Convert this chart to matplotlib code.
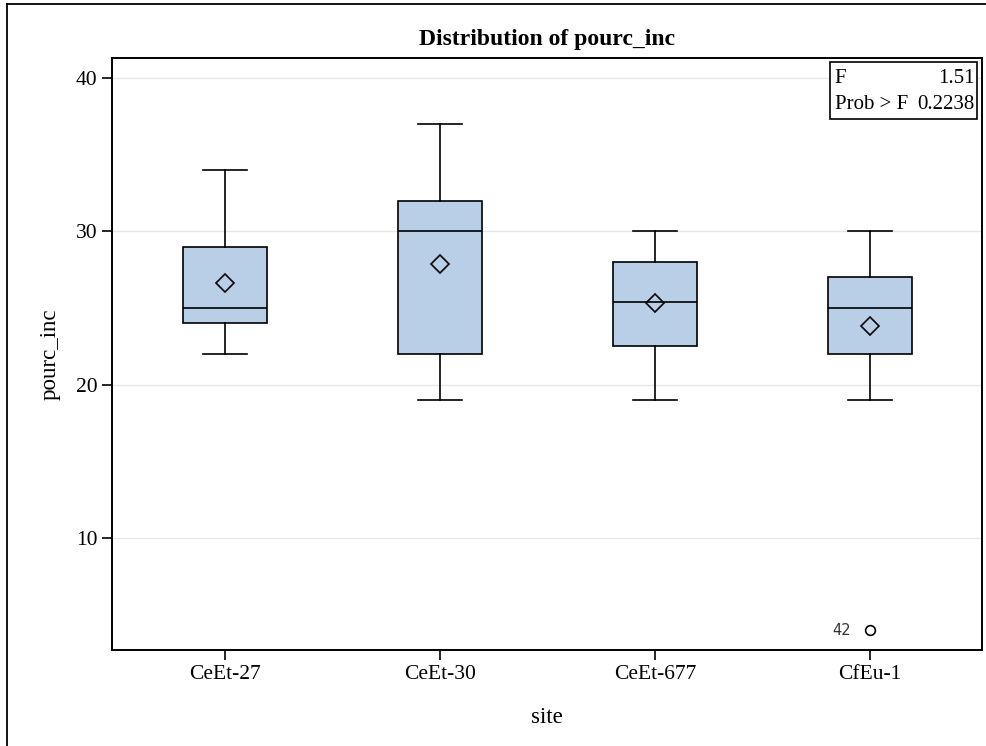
import matplotlib.pyplot as plt
from matplotlib.patches import Rectangle
from matplotlib.lines import Line2D

plt.rcParams['font.family'] = ['Liberation Serif', 'DejaVu Serif']

# Box statistics
sites = ['CeEt-27', 'CeEt-30', 'CeEt-677', 'CfEu-1']
whislo = [22, 19, 19, 19]
q1 = [24, 22, 22.5, 22]
med = [25, 30, 25.4, 25]
q3 = [29, 32, 28, 27]
whishi = [34, 37, 30, 30]
means = [26.6, 27.85, 25.3, 23.8]
outliers = [[], [], [], [4.0]]
outlier_ids = [[], [], [], ['42']]

f_value = '1.51'
p_value = '0.2238'

stats = []
for i, s in enumerate(sites):
    stats.append({'label': s, 'whislo': whislo[i], 'q1': q1[i], 'med': med[i],
                  'q3': q3[i], 'whishi': whishi[i], 'mean': means[i],
                  'fliers': outliers[i]})

fig = plt.figure(figsize=(9.87, 7.46), dpi=100)
ax = fig.add_axes([0.1135, 0.1287, 0.8815, 0.7936])

# outer frame (left and top edges)
fig.add_artist(Line2D([0.007, 0.007], [0.0, 0.995], color='black', lw=1.3, transform=fig.transFigure))
fig.add_artist(Line2D([0.007, 1.0], [0.995, 0.995], color='black', lw=1.3, transform=fig.transFigure))

ax.bxp(stats, positions=range(len(sites)), widths=0.39, patch_artist=True,
       showmeans=True, showfliers=True,
       boxprops=dict(facecolor='#b9cfe7', edgecolor='black', linewidth=1.2),
       medianprops=dict(color='black', linewidth=1.2),
       whiskerprops=dict(color='black', linewidth=1.2),
       capprops=dict(color='black', linewidth=1.2),
       capwidths=0.205,
       meanprops=dict(marker='D', markerfacecolor='none', markeredgecolor='black',
                      markersize=9, markeredgewidth=1.2),
       flierprops=dict(marker='o', markerfacecolor='none', markeredgecolor='black',
                       markersize=7, markeredgewidth=1.2))

for i, (vals, ids) in enumerate(zip(outliers, outlier_ids)):
    for v, t in zip(vals, ids):
        ax.text(i - 0.09, v, t, ha='right', va='center', fontsize=10.5,
                family='DejaVu Sans', color='#333333')

ax.set_xlim(-0.525, 3.52)
ax.set_ylim(2.7, 41.3)
ax.set_yticks([10, 20, 30, 40])
ax.set_xticks(range(len(sites)))
ax.set_xticklabels(sites)
ax.yaxis.grid(True, color='#e6e6e6', linewidth=1)
ax.set_axisbelow(True)
ax.tick_params(direction='out', length=7, width=1.2, labelsize=15.5)
for sp in ax.spines.values():
    sp.set_linewidth(1.4)

ax.set_xlabel('site', fontsize=16.5, labelpad=17)
ax.set_ylabel('pourc_inc', fontsize=16.5, labelpad=11)
ax.set_title('Distribution of pourc_inc', fontsize=17, fontweight='bold', pad=9)

# F test inset
ax.add_patch(Rectangle((0.8255, 0.897), 0.1685, 0.097, transform=ax.transAxes,
                       facecolor='white', edgecolor='black', linewidth=1.2, zorder=5))
ax.text(0.8305, 0.966, 'F', transform=ax.transAxes, fontsize=15, va='center', zorder=6)
ax.text(0.991, 0.966, f_value, transform=ax.transAxes, fontsize=15, va='center', ha='right', zorder=6)
ax.text(0.8305, 0.922, 'Prob > F', transform=ax.transAxes, fontsize=15, va='center', zorder=6)
ax.text(0.991, 0.922, p_value, transform=ax.transAxes, fontsize=15, va='center', ha='right', zorder=6)

fig.savefig('out.png', dpi=100)
